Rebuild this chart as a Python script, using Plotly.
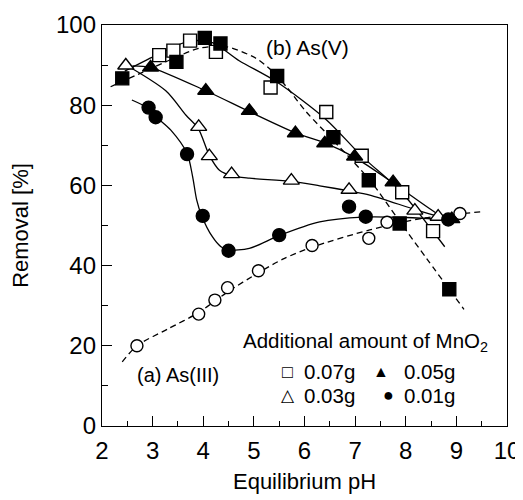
import plotly.graph_objects as go

# ---- data ----
# As(V) without MnO2 (filled squares)
asv_ph = [2.40, 3.47, 4.03, 4.34, 5.46, 6.57, 7.27, 7.88, 8.86]
asv_rm = [86.7, 90.8, 96.8, 95.4, 87.3, 72.0, 61.3, 50.5, 34.1]
asv_fit_ph = [2.17, 2.8, 3.4, 3.92, 4.45, 5.04, 5.37, 5.67, 6.03, 6.6, 7.29, 7.88, 8.41, 9.15]
asv_fit_rm = [84.6, 88.2, 91.6, 94.2, 94.6, 91.7, 88.4, 84.2, 78.4, 70.8, 61.3, 51.0, 41.8, 29.1]

# As(III) (open circles)
asiii_ph = [2.69, 3.91, 4.23, 4.48, 5.09, 6.15, 7.27, 7.63, 9.07]
asiii_rm = [20.0, 27.9, 31.4, 34.5, 38.7, 45.0, 46.8, 50.8, 53.0]
asiii_fit_ph = [2.40, 2.69, 3.3, 3.91, 4.5, 5.09, 5.57, 6.15, 7.29, 8.34, 9.47]
asiii_fit_rm = [16.0, 20.0, 24.2, 28.3, 33.6, 38.2, 41.6, 44.6, 48.9, 51.8, 53.4]

# MnO2 0.07 g (open squares)
m007_ph = [3.13, 3.41, 3.74, 4.25, 5.33, 6.43, 7.13, 7.93, 8.54]
m007_rm = [92.5, 93.6, 96.1, 93.3, 84.4, 78.3, 67.4, 58.3, 48.6]
m007_fit_ph = [2.45, 3.13, 3.72, 4.18, 4.71, 5.44, 6.43, 7.13, 7.91, 8.54, 8.77]
m007_fit_rm = [88.5, 92.8, 96.0, 95.6, 91.1, 85.9, 76.4, 67.3, 58.4, 48.5, 44.7]

# MnO2 0.05 g (filled triangles)
m005_ph = [2.96, 4.05, 4.91, 5.82, 6.40, 6.99, 7.75, 8.91]
m005_rm = [89.4, 83.6, 78.6, 73.0, 70.5, 67.2, 60.8, 51.6]
m005_fit_ph = [2.6, 2.96, 4.05, 4.91, 5.84, 6.40, 6.99, 7.72, 8.67, 8.9]
m005_fit_rm = [89.8, 89.4, 83.6, 78.4, 73.0, 70.6, 67.0, 60.9, 52.6, 51.4]

# MnO2 0.03 g (open triangles)
m003_ph = [2.47, 3.91, 4.12, 4.56, 5.74, 6.88, 8.18, 8.64]
m003_rm = [89.9, 74.6, 67.3, 62.8, 61.2, 58.9, 53.7, 52.2]
m003_fit_ph = [2.40, 3.26, 3.66, 3.90, 4.12, 4.32, 4.57, 4.91, 5.74, 6.30, 6.89, 7.29, 8.20, 8.64, 8.9]
m003_fit_rm = [90.6, 83.6, 77.5, 74.2, 67.5, 63.8, 62.4, 61.8, 61.0, 59.9, 58.6, 57.6, 53.9, 52.3, 51.5]

# MnO2 0.01 g (filled circles)
m001_ph = [2.92, 3.06, 3.68, 3.99, 4.50, 5.50, 6.88, 7.21, 8.84]
m001_rm = [79.4, 77.0, 67.8, 52.4, 43.7, 47.6, 54.7, 52.2, 51.5]
m001_fit_ph = [2.59, 2.92, 3.08, 3.36, 3.68, 3.79, 3.87, 3.97, 4.18, 4.35, 4.50, 4.91, 5.50, 6.30, 7.15, 8.0, 8.84]
m001_fit_rm = [81.3, 79.2, 77.0, 73.8, 68.0, 62.2, 56.4, 52.4, 47.2, 44.7, 43.9, 44.3, 47.5, 50.9, 52.1, 52.0, 51.4]

x_ticks = [2, 3, 4, 5, 6, 7, 8, 9, 10]
y_ticks = [0, 20, 40, 60, 80, 100]

FONT = "Liberation Sans, Arial, sans-serif"
DASH = "6px,4px"

fig = go.Figure()

def curve(xs, ys, dashed):
    fig.add_trace(go.Scatter(
        x=xs, y=ys, mode="lines", showlegend=False, hoverinfo="skip",
        line=dict(color="black", width=1.3, shape="spline", smoothing=0.8,
                  dash=DASH if dashed else "solid")))

curve(asv_fit_ph, asv_fit_rm, True)
curve(asiii_fit_ph, asiii_fit_rm, True)
curve(m007_fit_ph, m007_fit_rm, False)
curve(m005_fit_ph, m005_fit_rm, False)
curve(m003_fit_ph, m003_fit_rm, False)
curve(m001_fit_ph, m001_fit_rm, False)

def pts(xs, ys, symbol, size, filled):
    fig.add_trace(go.Scatter(
        x=xs, y=ys, mode="markers", showlegend=False,
        marker=dict(symbol=symbol, size=size,
                    color="black" if filled else "white",
                    line=dict(color="black", width=1.4))))

pts(asiii_ph, asiii_rm, "circle", 12, False)
pts(m003_ph, m003_rm, "triangle-up", 14, False)
pts(m007_ph, m007_rm, "square", 13, False)
pts(asv_ph, asv_rm, "square", 13, True)
pts(m005_ph, m005_rm, "triangle-up", 14, True)
pts(m001_ph, m001_rm, "circle", 13, True)

ann = []
def text(x, y, s, size=20, anchor="left"):
    ann.append(dict(x=x, y=y, xref="paper", yref="paper", text=s, showarrow=False,
                    xanchor=anchor, yanchor="middle",
                    font=dict(family=FONT, size=size, color="black")))

text(0.400, 0.944, "(b) As(V)", 21)
text(0.081, 0.127, "(a) As(III)")
text(0.343, 0.209, "Additional amount of MnO<sub>2</sub>", 20.5)
text(0.457, 0.135, "□", 18, "center")
text(0.493, 0.135, "0.07g", 20.5)
text(0.688, 0.135, "▲", 16, "center")
text(0.740, 0.135, "0.05g", 20.5)
text(0.459, 0.077, "△", 17, "center")
text(0.493, 0.077, "0.03g", 20.5)
text(0.707, 0.077, "●", 18, "center")
text(0.740, 0.077, "0.01g", 20.5)

fig.update_layout(
    width=515, height=492,
    margin=dict(l=94, r=16, t=17, b=74),
    paper_bgcolor="white", plot_bgcolor="white",
    font=dict(family=FONT, size=22, color="black"),
    annotations=ann,
    xaxis=dict(range=[2, 10], tickvals=x_ticks, ticks="inside", ticklen=10,
               tickwidth=1.2, tickcolor="black", showline=True, linecolor="black",
               linewidth=1.3, mirror=True, showgrid=False, zeroline=False,
               automargin=False, ticklabelstandoff=3,
               minor=dict(dtick=0.5, ticks="inside", ticklen=5, tickcolor="black", tickwidth=1.2),
               title=dict(text="Equilibrium pH", font=dict(size=22), standoff=10),
               tickfont=dict(size=24)),
    yaxis=dict(range=[0, 100], tickvals=y_ticks, ticks="inside", ticklen=10,
               tickwidth=1.2, tickcolor="black", showline=True, linecolor="black",
               linewidth=1.3, mirror=True, showgrid=False, zeroline=False,
               automargin=False, ticklabelstandoff=0,
               minor=dict(dtick=10, ticks="inside", ticklen=6, tickcolor="black", tickwidth=1.2),
               title=dict(text="Removal [%]", font=dict(size=22), standoff=24),
               tickfont=dict(size=24)),
)

fig.write_html("out.html")
